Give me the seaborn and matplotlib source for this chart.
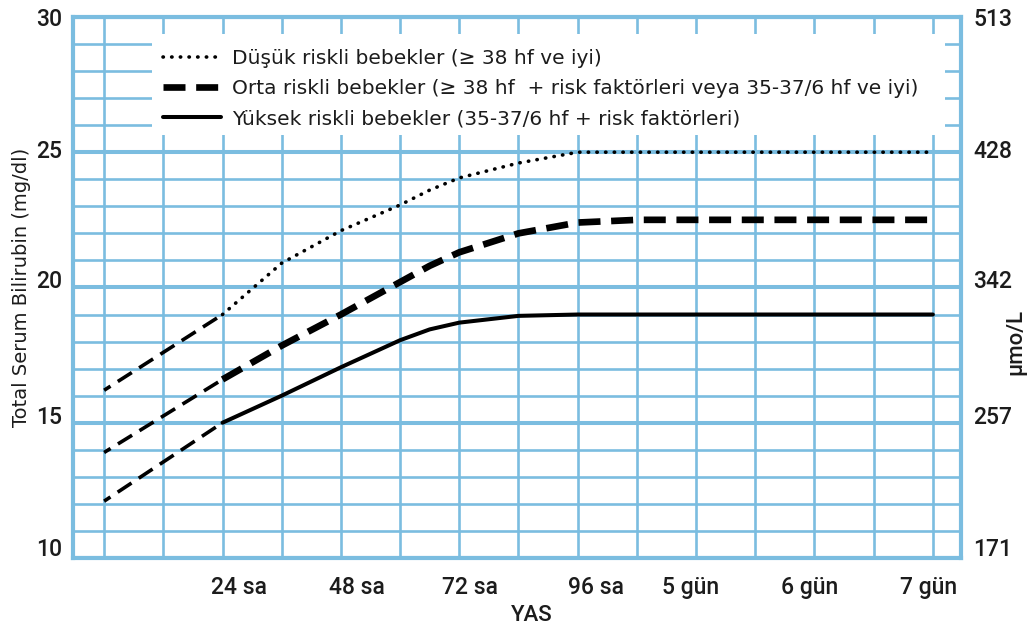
import numpy as np
import pandas as pd
import matplotlib
matplotlib.use("Agg")
import matplotlib.pyplot as plt
import seaborn as sns
from matplotlib.transforms import ScaledTranslation
from matplotlib.patches import Rectangle
from matplotlib.ticker import FixedLocator, MultipleLocator

# ---------------- data ----------------
early_hours = [0, 24]
low_early = [16.2, 19.0]
mid_early = [13.9, 16.6]
high_early = [12.1, 15.0]

hours = [24, 36, 48, 60, 66, 72, 84, 96, 108, 120, 144, 168]
low_vals = [19.0, 20.9, 22.1, 23.05, 23.6, 24.05, 24.6, 25.0, 25.0, 25.0, 25.0, 25.0]
mid_vals = [16.6, 17.85, 19.0, 20.2, 20.8, 21.3, 22.0, 22.4, 22.5, 22.5, 22.5, 22.5]
high_vals = [15.0, 16.0, 17.05, 18.05, 18.45, 18.7, 18.95, 19.0, 19.0, 19.0, 19.0, 19.0]

series_labels = [
    "Düşük riskli bebekler (≥ 38 hf ve iyi)",
    "Orta riskli bebekler (≥ 38 hf  + risk faktörleri veya 35-37/6 hf ve iyi)",
    "Yüksek riskli bebekler (35-37/6 hf + risk faktörleri)",
]

xtick_pos = [24, 48, 72, 96, 120, 144, 168]
xtick_labels = ["24 sa", "48 sa", "72 sa", "96 sa", "5 gün", "6 gün", "7 gün"]
ytick_pos = [10, 15, 20, 25, 30]
ytick_labels_left = ["10", "15", "20", "25", "30"]
ytick_labels_right = ["171", "257", "342", "428", "513"]

# ---------------- style ----------------
sns.set_theme(style="white")
plt.rcParams["font.family"] = ["Roboto", "DejaVu Sans"]
GRID = "#7BBDE0"
TXT = "#1c1c1c"

fig = plt.figure(figsize=(10.33, 6.28), dpi=100)
ax = fig.add_axes([0.0707, 0.1115, 0.8596, 0.8615])
ax.set_xlim(-6.3, 173.7)
ax.set_ylim(10, 30)

# grid
ax.yaxis.set_major_locator(FixedLocator(ytick_pos))
ax.yaxis.set_minor_locator(MultipleLocator(1))
ax.xaxis.set_major_locator(FixedLocator(xtick_pos))
ax.xaxis.set_minor_locator(MultipleLocator(12))
ax.xaxis.remove_overlapping_locs = False
ax.grid(which="major", axis="y", color=GRID, lw=2.9)
ax.grid(which="minor", axis="y", color=GRID, lw=1.9)
ax.grid(which="minor", axis="x", color=GRID, lw=1.9)
ax.set_axisbelow(True)
for s in ax.spines.values():
    s.set_color(GRID)
    s.set_linewidth(3)
    s.set_visible(True)

# white legend area
ax.add_patch(Rectangle((0.0894, 0.782), 0.8926, 0.186, transform=ax.transAxes,
                       facecolor="white", edgecolor="none", zorder=1.8))

# early thin dashed segments
early_style = dict(color="black", lw=2.6, linestyle=(2.5, (4.6, 2.4)), zorder=3)
for vals in (low_early, mid_early, high_early):
    sns.lineplot(x=early_hours, y=vals, ax=ax, **early_style)

sns.lineplot(x=hours, y=low_vals, ax=ax, color="black", lw=2.6,
             linestyle=(0, (0.1, 2.3)), dash_capstyle="round", zorder=3)
h_low = ax.lines[-1]
sns.lineplot(x=hours, y=mid_vals, ax=ax, color="black", lw=4.8,
             linestyle=(0, (3.3, 1.6)), zorder=3)
h_mid = ax.lines[-1]
sns.lineplot(x=hours, y=high_vals, ax=ax, color="black", lw=2.9,
             linestyle="-", zorder=3)
h_high = ax.lines[-1]

leg = ax.legend([h_low, h_mid, h_high], series_labels, loc="upper left",
                bbox_to_anchor=(163 / 1033, 1 - 49 / 628), bbox_transform=fig.transFigure,
                frameon=False, prop={"family": ["DejaVu Sans"], "size": 14.5},
                handlelength=2.9, handletextpad=0.55,
                labelspacing=0.55, borderpad=0, borderaxespad=0)
for t in leg.get_texts():
    t.set_color(TXT)
leg.set_zorder(5)

# ticks
ax.set_xticks(xtick_pos)
ax.set_xticklabels(xtick_labels)
ax.tick_params(axis="x", which="both", length=0, pad=13, labelsize=16.5, labelcolor=TXT)
x_offsets = [16, 16, 11, 18, -6, -5, -4]
for lab, dx in zip(ax.get_xticklabels(), x_offsets):
    lab.set_fontweight("medium")
    lab.set_transform(lab.get_transform() + ScaledTranslation(dx / 100, 0, fig.dpi_scale_trans))

ax.set_yticks(ytick_pos)
ax.set_yticklabels(ytick_labels_left)
ax.tick_params(axis="y", which="both", length=0, pad=8, labelsize=16.5, labelcolor=TXT)
y_offsets = [11, 8, 8, 3, 0]
for lab, dy in zip(ax.get_yticklabels(), y_offsets):
    lab.set_fontweight("medium")
    lab.set_transform(lab.get_transform() + ScaledTranslation(0, dy / 100, fig.dpi_scale_trans))

ax2 = ax.twinx()
ax2.set_ylim(ax.get_ylim())
ax2.set_yticks(ytick_pos)
ax2.set_yticklabels(ytick_labels_right)
ax2.tick_params(axis="y", length=0, pad=9, labelsize=16.5, labelcolor=TXT)
for lab, dy in zip(ax2.get_yticklabels(), y_offsets):
    lab.set_fontweight("medium")
    lab.set_transform(lab.get_transform() + ScaledTranslation(0, dy / 100, fig.dpi_scale_trans))
for s in ax2.spines.values():
    s.set_visible(False)
ax2.grid(False)

ax.set_xlabel("YAS", fontsize=16, color=TXT, fontweight="medium")
ax.xaxis.set_label_coords(0.517, -0.087)
ax.set_ylabel("Total Serum Bilirubin (mg/dl)", fontsize=14, color=TXT,
              family=["DejaVu Sans"])
ax.yaxis.set_label_coords(-0.047, 0.5)
ax.text(1.062, 0.40, "μmo/L", transform=ax.transAxes, rotation=90,
        ha="center", va="center", fontsize=16, color=TXT, fontweight="medium")

fig.savefig("out.png", dpi=100)
